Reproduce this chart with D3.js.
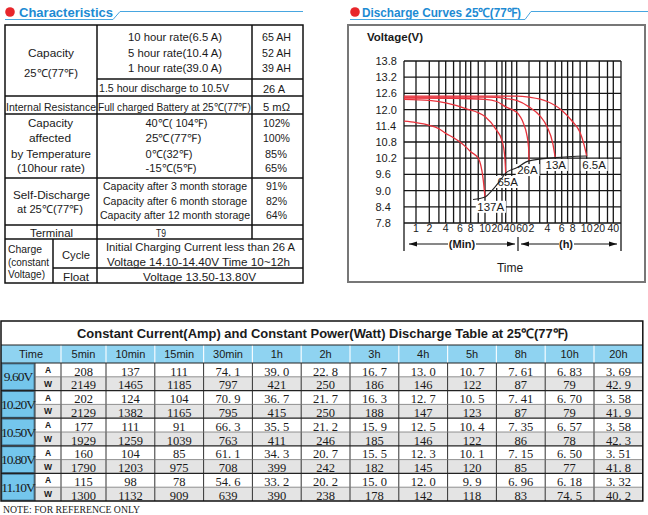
<!DOCTYPE html>
<html><head><meta charset="utf-8">
<script src="https://cdn.jsdelivr.net/npm/d3@7"></script>
<style>
body{margin:0;background:#fff}
svg{display:block}
text{font-family:'Liberation Sans',Arial,sans-serif;fill:#1a1a1a}
</style>
</head><body>
<svg id="c" width="648" height="515"></svg>
<script>
// ================= DATA =================
// Characteristics table
const capacityRates = ["10 hour rate(6.5 A)", "5 hour rate(10.4 A)", "1 hour rate(39.0 A)"];
const capacityValues = ["65 AH", "52 AH", "39 AH"];
const dischargeCond = "1.5 hour discharge to 10.5V";
const dischargeValue = "26 A";
const resistanceCond = "Full charged Battery at 25℃(77℉)";
const resistanceValue = "5 mΩ";
const tempLabels = ["Capacity", "affected", "by Temperature", "(10hour rate)"];
const tempConds = ["40℃( 104℉)", "25℃(77℉)", "0℃(32℉)", "-15℃(5℉)"];
const tempValues = ["102%", "100%", "85%", "65%"];
const storageConds = ["Capacity after 3 month storage", "Capacity after 6 month storage", "Capacity after 12 month storage"];
const storageValues = ["91%", "82%", "64%"];
const terminalValue = "T9";
const chargeLabels = ["Charge", "(constant", "Voltage)"];
const cycleLines = ["Initial Charging Current less than 26 A", "Voltage 14.10-14.40V  Time 10~12h"];
const floatLine = "Voltage 13.50-13.80V";

// Discharge curves (time in minutes, voltage)
const curveNames = ["137A", "65A", "26A", "13A", "6.5A"];
const curve137A = [[0.5,11.57],[1,11.52],[2,11.42],[3,11.29],[4,11.12],[5,10.96],[6,10.8],[7,10.62],[8,10.44],[9,10.2],[9.7,9.45],[10,8.76]];
const curve65A  = [[0.5,12.38],[2,12.34],[4,12.25],[7,12.04],[10,11.74],[20,11.23],[30,10.86],[37,10.3],[40,9.65]];
const curve26A  = [[0.5,12.43],[5,12.42],[10,12.38],[20,12.3],[40,12.1],[60,11.9],[90,11.45],[105,11.1],[117,10.6],[120,10.1]];
const curve13A  = [[0.5,12.46],[10,12.46],[20,12.45],[40,12.41],[60,12.34],[120,12.1],[180,11.78],[240,11.35],[280,10.75],[300,10.22]];
const curve6_5A = [[0.5,12.5],[30,12.5],[60,12.5],[120,12.46],[240,12.3],[360,11.98],[480,11.55],[540,11.15],[575,10.7],[600,10.28]];
const endLine   = [[8.3,8.67],[10,8.76],[15,9.0],[25,9.35],[40,9.65],[60,9.85],[120,10.1],[300,10.22],[600,10.28]];
const curveLabelAnchors = [[14,8.4],[43,9.32],[110,9.76],[305,9.95],[900,9.95]]; // (min, V)

const yTicks = [13.8,13.2,12.6,12.0,11.4,10.8,10.2,9.6,9.0,8.4,7.8];
const xTickValues = [1,2,4,6,8,10,20,40,60,120,240,360,480,600,1200,2400];
const xTickLabels = ["1","2","4","6","8","10","20","40","60","2","4","6","8","10","20","40"];
const xGridValues = [1,2,3,4,5,6,7,8,9,10,20,30,40,50,60,120,180,240,300,360,420,480,540,600,1200,1800,2400];

// Discharge table
const tableTitle = "Constant Current(Amp) and Constant Power(Watt) Discharge Table at 25℃(77℉)";
const timeCols = ["5min","10min","15min","30min","1h","2h","3h","4h","5h","8h","10h","20h"];
const endVoltages = ["9.60V","10.20V","10.50V","10.80V","11.10V"];
const ampRows = [
  ["208","137","111","74.1","39.0","22.8","16.7","13.0","10.7","7.61","6.83","3.69"],
  ["202","124","104","70.9","36.7","21.7","16.3","12.7","10.5","7.41","6.70","3.58"],
  ["177","111","91","66.3","35.5","21.2","15.9","12.5","10.4","7.35","6.57","3.58"],
  ["160","104","85","61.1","34.3","20.7","15.5","12.3","10.1","7.15","6.50","3.51"],
  ["115","98","78","54.6","33.2","20.2","15.0","12.0","9.9","6.96","6.18","3.32"]
];
const wattRows = [
  ["2149","1465","1185","797","421","250","186","146","122","87","79","42.9"],
  ["2129","1382","1165","795","415","250","188","147","123","87","79","41.9"],
  ["1929","1259","1039","763","411","246","185","146","122","86","78","42.3"],
  ["1790","1203","975","708","399","242","182","145","120","85","77","41.8"],
  ["1300","1132","909","639","390","238","178","142","118","83","74.5","40.2"]
];
const noteText = "NOTE: FOR REFERENCE ONLY";

// ================= DRAW =================
const svg = d3.select("#c");
const BLUE_T = "#1d8bd3", LINE_B = "#47a6e0", RED = "#e8323c";

function txt(g, s, x, y, opt = {}) {
  const t = g.append("text").attr("x", x).attr("y", y).text(s)
    .attr("font-size", opt.size || 11)
    .attr("text-anchor", opt.anchor || "start");
  if (opt.len) t.attr("textLength", opt.len).attr("lengthAdjust", "spacingAndGlyphs");
  if (opt.weight) t.attr("font-weight", opt.weight);
  if (opt.fill) t.style("fill", opt.fill);
  if (opt.family) t.style("font-family", opt.family);
  if (opt.ls) t.attr("letter-spacing", opt.ls);
  return t;
}
function line(g, x1, y1, x2, y2, c = "#111", w = 1.5) {
  g.append("line").attr("x1", x1).attr("y1", y1).attr("x2", x2).attr("y2", y2)
    .attr("stroke", c).attr("stroke-width", w);
}

// ---- section headers ----
const hdr = svg.append("g");
hdr.append("circle").attr("cx", 10).attr("cy", 12).attr("r", 4.8).attr("fill", "#e8262b");
txt(hdr, "Characteristics", 19, 17, {size: 13, weight: "bold", fill: BLUE_T, len: 94});
hdr.append("polyline").attr("points", "5,19.5 113,19.5 120,11.5 303,11.5")
  .attr("fill", "none").attr("stroke", LINE_B).attr("stroke-width", 1);
hdr.append("circle").attr("cx", 355).attr("cy", 12).attr("r", 4.8).attr("fill", "#e8262b");
txt(hdr, "Discharge Curves 25℃(77℉)", 362, 17, {size: 12.5, weight: "bold", fill: BLUE_T, len: 159});
hdr.append("polyline").attr("points", "350,19.5 525,19.5 531,11.5 648,11.5")
  .attr("fill", "none").attr("stroke", LINE_B).attr("stroke-width", 1);

// ---- characteristics table ----
const ct = svg.append("g");
const L = 5, R = 303, C1 = 97, C2 = 252;
ct.append("rect").attr("x", L).attr("y", 25).attr("width", R - L).attr("height", 283 - 25)
  .attr("fill", "none").attr("stroke", "#111").attr("stroke-width", 1.5);
line(ct, C1, 25, C1, 283);
line(ct, C2, 25, C2, 239);
line(ct, 53, 239, 53, 283);
line(ct, C1, 79, R, 79);
[96, 114, 178, 225, 239].forEach(y => line(ct, L, y, R, y));
line(ct, 53, 268, R, 268);

const B = 4; // baseline offset from visual centre
txt(ct, "Capacity", 28, 53.3 + B, {len: 46});
txt(ct, "25℃(77℉)", 24, 72.7 + B, {len: 54});
[37.3, 52.7, 67.7].forEach((cy, i) => {
  txt(ct, capacityRates[i], 128, cy + B, {len: 94});
  txt(ct, capacityValues[i], 262, cy + B, {len: 29});
});
txt(ct, dischargeCond, 99, 88.3 + B, {len: 130});
txt(ct, dischargeValue, 263, 89 + B, {len: 22});
txt(ct, "Internal Resistance", 6, 106.7 + B, {len: 90});
txt(ct, resistanceCond, 98, 106.7 + B, {len: 153});
txt(ct, resistanceValue, 263, 107 + B, {len: 27});
const tempY = [123.3, 138, 154.3, 168.3];
const tempLX = [[28, 45], [29, 42], [11, 80], [17, 68]];
const tempCW = [62, 56, 47, 51];
tempY.forEach((cy, i) => {
  txt(ct, tempLabels[i], tempLX[i][0], cy + B, {len: tempLX[i][1]});
  txt(ct, tempConds[i], 145.5, cy + B, {len: tempCW[i]});
  txt(ct, tempValues[i], i < 2 ? 263 : 265, cy + B, {len: i < 2 ? 27 : 22});
});
txt(ct, "Self-Discharge", 13, 195 + B, {len: 77});
txt(ct, "at 25℃(77℉)", 17, 209.3 + B, {len: 66});
[186, 201, 215.3].forEach((cy, i) => {
  txt(ct, storageConds[i], i < 2 ? 103 : 100, cy + B, {len: i < 2 ? 144 : 150});
  txt(ct, storageValues[i], 266, cy + B, {len: 21});
});
txt(ct, "Terminal", 30, 232.7 + B, {len: 43});
txt(ct, terminalValue, 156, 232.7 + B, {len: 10});
[[249.3, 34], [261.7, 41], [274, 37]].forEach((d, i) => txt(ct, chargeLabels[i], 8, d[0] + B, {len: d[1]}));
txt(ct, "Cycle", 62, 255 + B, {len: 28});
txt(ct, "Float", 63, 276.7 + B, {len: 26});
txt(ct, cycleLines[0], 106, 247.3 + B, {len: 189});
txt(ct, cycleLines[1], 107, 261.7 + B, {len: 183});
txt(ct, floatLine, 143, 277.3 + B, {len: 113});

// ---- discharge curves chart ----
const ch = svg.append("g");
ch.append("rect").attr("x", 348).attr("y", 25).attr("width", 297).attr("height", 257)
  .attr("fill", "none").attr("stroke", "#777").attr("stroke-width", 2);
txt(ch, "Voltage(V)", 367, 41, {size: 11.5, weight: "bold", len: 56});

const plot = {l: 404, r: 621, t: 61, b: 223};
const y = d3.scaleLinear().domain([7.8, 13.8]).range([plot.b, plot.t]);
// the printed time axis is not a uniform log axis: piecewise log scale through the labelled ticks
const xBreakMin = [0.5, ...xTickValues, 3600];
const xBreakPx = [404, 416, 429.3, 445.7, 460, 470.7, 485, 496.7, 505.7, 516.7, 529, 547.3, 561.7, 572.7, 586.7, 599.3, 613.3, 621];
const x = d3.scaleLog().domain(xBreakMin).range(xBreakPx);

const grid = ch.append("g").attr("stroke", "#161616").attr("stroke-width", 1.3);
yTicks.forEach(v => grid.append("line").attr("x1", plot.l).attr("x2", plot.r).attr("y1", y(v)).attr("y2", y(v)));
xGridValues.forEach(v => grid.append("line").attr("x1", x(v)).attr("x2", x(v)).attr("y1", plot.t).attr("y2", plot.b));
grid.append("line").attr("x1", plot.l).attr("x2", plot.l).attr("y1", plot.t).attr("y2", 251);
grid.append("line").attr("x1", plot.r).attr("x2", plot.r).attr("y1", plot.t).attr("y2", 251);

yTicks.forEach(v => txt(ch, d3.format(".1f")(v), 375.5, y(v) + 4, {size: 11}));
// x tick labels: centred on their grid line, then pushed apart where they would collide
const tickG = ch.append("g");
const tks = xTickValues.map((v, i) => txt(tickG, xTickLabels[i], x(v), 232, {size: 10.5, anchor: "middle"}));
let prevRight = -Infinity;
tks.forEach(t => {
  const bb = t.node().getBBox();
  if (bb.x < prevRight + 0.5) {
    const shift = prevRight + 0.5 - bb.x;
    t.attr("x", +t.attr("x") + shift);
    prevRight = bb.x + shift + bb.width;
  } else prevRight = bb.x + bb.width;
});

// labels with white boxes, then curves
const curves = [curve137A, curve65A, curve26A, curve13A, curve6_5A];
const boxG = ch.append("g");
const curveG = ch.append("g");
const labG = ch.append("g");
const lineGen = d3.line().x(d => x(d[0])).y(d => y(d[1])).curve(d3.curveMonotoneX);
curveNames.forEach((n, i) => {
  const [tm, v] = curveLabelAnchors[i];
  const t = txt(labG, n, x(tm), y(v) + 4, {size: 11.5, anchor: "middle"});
  const bb = t.node().getBBox();
  boxG.append("rect").attr("x", bb.x - 1.5).attr("y", bb.y).attr("width", bb.width + 3).attr("height", bb.height)
    .attr("fill", "#fff");
});
curves.forEach(c => curveG.append("path").attr("d", lineGen(c)).attr("fill", "none")
  .attr("stroke", RED).attr("stroke-width", 1.3));
curveG.append("path").attr("d", lineGen(endLine)).attr("fill", "none").attr("stroke", "#222").attr("stroke-width", 1.1);

// time arrows
const ar = ch.append("g");
const ay = 244;
function arrowHead(xTip, dir) {
  ar.append("path").attr("d", `M${xTip},${ay} L${xTip - dir * 8},${ay - 2.5} L${xTip - dir * 8},${ay + 2.5} Z`).attr("fill", "#111");
}
line(ar, 409, ay, 448, ay, "#111", 1);
line(ar, 476, ay, 515, ay, "#111", 1);
line(ar, 521, ay, 559, ay, "#111", 1);
line(ar, 574, ay, 617, ay, "#111", 1);
arrowHead(409, -1); arrowHead(515, 1); arrowHead(521, -1); arrowHead(617, 1);
line(ar, 518, 237, 518, 251, "#111", 1.2);
txt(ar, "(Min)", 462, 248, {size: 11, weight: "bold", anchor: "middle"});
txt(ar, "(h)", 566, 248, {size: 11, weight: "bold", anchor: "middle"});
txt(ar, "Time", 510, 272, {size: 12, anchor: "middle"});

// ---- discharge table ----
const tb = svg.append("g");
const colX = [1, 35, 61, 106];
for (let k = 1; k < timeCols.length; k++) colX.push(106 + 48.8 * k);
const tTop = 321, titleBot = 345, headBot = 363, rowH = 13.8;
const tRight = colX[colX.length - 1];
const nRows = endVoltages.length * 2;
const tBot = headBot + nRows * rowH;

tb.append("rect").attr("x", 1).attr("y", headBot - 18).attr("width", tRight - 1).attr("height", 18).attr("fill", "#8fd3f1");
for (let r = 0; r < nRows; r++) {
  tb.append("rect").attr("x", colX[1]).attr("y", headBot + r * rowH).attr("width", tRight - colX[1]).attr("height", rowH)
    .attr("fill", r % 2 ? "#e4e4e4" : "#fff");
}
endVoltages.forEach((v, i) => {
  tb.append("rect").attr("x", 1.8).attr("y", headBot + i * 2 * rowH + 0.8).attr("width", colX[1] - 2.6).attr("height", 2 * rowH - 1.6)
    .attr("fill", "#74c6ec").attr("stroke", "#3f6f8c").attr("stroke-width", 1.2);
});
for (let k = 2; k < colX.length - 1; k++) line(tb, colX[k], titleBot, colX[k], headBot, "#f4fbff", 1.2);
for (let k = 1; k < colX.length - 1; k++) line(tb, colX[k], headBot, colX[k], tBot, "#333", 1);
for (let r = 1; r < nRows; r++) {
  const yy = headBot + r * rowH;
  line(tb, r % 2 ? colX[1] : 1, yy, tRight, yy, r % 2 ? "#777" : "#222", r % 2 ? 0.8 : 1.3);
}
line(tb, 1, titleBot, tRight, titleBot, "#222", 1.2);
line(tb, 1, headBot, tRight, headBot, "#222", 1.2);
tb.append("rect").attr("x", 1).attr("y", tTop).attr("width", tRight - 1).attr("height", tBot - tTop)
  .attr("fill", "none").attr("stroke", "#111").attr("stroke-width", 1.5);

txt(tb, tableTitle, 77, 338, {size: 13, weight: "bold", len: 491});
txt(tb, "Time", (colX[0] + colX[2]) / 2, 358, {size: 11, anchor: "middle"});
timeCols.forEach((t, j) => txt(tb, t, (colX[j + 2] + colX[j + 3]) / 2, 358, {size: 11, anchor: "middle"}));

const serif = "'Liberation Serif','Times New Roman',serif";
const fmt = s => s.replace(".", ". ");
endVoltages.forEach((v, i) => {
  const top = headBot + i * 2 * rowH;
  txt(tb, v, 18, top + rowH + 4.5, {size: 13.5, anchor: "middle", family: serif, ls: -1});
  txt(tb, "A", 48, top + 10, {size: 8.5, weight: "bold", anchor: "middle"});
  txt(tb, "W", 48, top + rowH + 10, {size: 8.5, weight: "bold", anchor: "middle"});
  ampRows[i].forEach((s, j) => txt(tb, fmt(s), (colX[j + 2] + colX[j + 3]) / 2, top + rowH - 1.3, {size: 12.5, anchor: "middle", family: serif}));
  wattRows[i].forEach((s, j) => txt(tb, fmt(s), (colX[j + 2] + colX[j + 3]) / 2, top + 2 * rowH - 1.3, {size: 12.5, anchor: "middle", family: serif}));
});
txt(tb, noteText, 3, 513, {size: 9.5, family: serif, len: 137});
</script>
</body></html>
